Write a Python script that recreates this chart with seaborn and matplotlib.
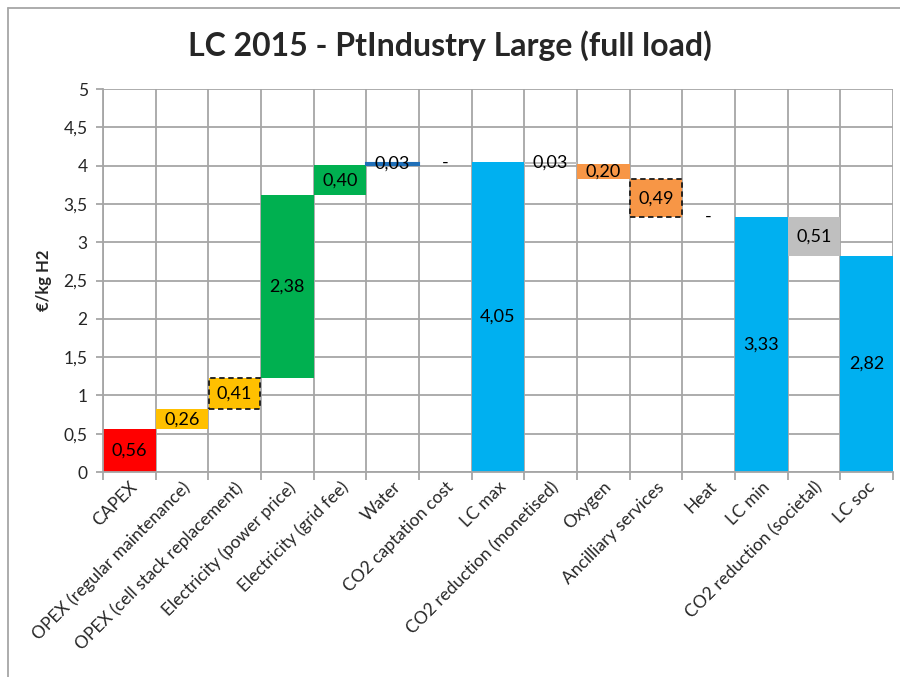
import numpy as np
import pandas as pd
import matplotlib
matplotlib.use("Agg")
import matplotlib.pyplot as plt
import seaborn as sns

# chart data
categories = ["CAPEX", "OPEX (regular maintenance)", "OPEX (cell stack replacement)",
              "Electricity (power price)", "Electricity (grid fee)", "Water",
              "CO2 captation cost", "LC max", "CO2 reduction (monetised)", "Oxygen",
              "Ancilliary services", "Heat", "LC min", "CO2 reduction (societal)", "LC soc"]
# signed steps, None where a total bar stands
steps = [0.56, 0.26, 0.41, 2.38, 0.40, 0.03, 0.0, None, -0.03, -0.20, -0.49, 0.0, None, -0.51, None]
totals = {"LC max": 4.05, "LC min": 3.33, "LC soc": 2.82}
colors = ["#FF0000", "#FFC000", "#FFC000", "#00B050", "#00B050", "#1F6FB8", "#FFFFFF",
          "#00B0F0", "#BFBFBF", "#F79646", "#F79646", "#FFFFFF", "#00B0F0", "#BFBFBF", "#00B0F0"]
dashed = ["OPEX (cell stack replacement)", "Ancilliary services"]

# build bottoms / heights of the waterfall
bottoms, heights, labels, label_y = [], [], [], []
level = 0.0
for cat, s in zip(categories, steps):
    if s is None:
        level = totals[cat]
        bottoms.append(0.0)
        heights.append(level)
        labels.append(f"{level:.2f}".replace(".", ","))
        label_y.append(level / 2)
    else:
        new = level + s
        lo, hi = min(level, new), max(level, new)
        bottoms.append(lo)
        heights.append(hi - lo)
        labels.append(f"{abs(s):.2f}".replace(".", ",") if s != 0 else "-")
        label_y.append((lo + hi) / 2)
        level = new

df = pd.DataFrame({"cat": categories, "height": heights})

sns.set_style("white")
plt.rcParams["font.family"] = ["Lato", "DejaVu Sans"]

fig = plt.figure(figsize=(9, 6.77), dpi=100)
ax = fig.add_axes([0.1144, 0.3028, 0.8778, 0.5657])

sns.barplot(data=df, x="cat", y="height", hue="cat", palette=colors, legend=False,
            width=1.0, saturation=1, linewidth=0, ax=ax, zorder=2)

# move each bar up to its waterfall position
for patch, b, cat in zip(ax.patches, bottoms, categories):
    patch.set_y(b)
    if cat in dashed:
        patch.set_edgecolor("#1a1a1a")
        patch.set_linewidth(1.3)
        patch.set_linestyle((0, (3, 2)))
        patch.set_x(patch.get_x() + 0.01)
        patch.set_width(patch.get_width() - 0.02)
    if cat == "Water":
        patch.set_edgecolor(colors[categories.index(cat)])
        patch.set_linewidth(1.5)

for i, (txt, y) in enumerate(zip(labels, label_y)):
    ax.text(i, y, txt, ha="center", va="center", fontsize=13, color="black", zorder=4)

ax.set_xlim(-0.5, len(categories) - 0.5)
ax.set_ylim(0, 5)
ax.set_yticks(np.arange(0, 5.01, 0.5))
ax.set_yticklabels([f"{v:g}".replace(".", ",") for v in np.arange(0, 5.01, 0.5)], fontsize=12.5)

# gridlines on the category boundaries
ax.set_xticks(np.arange(-0.5, len(categories), 1), minor=True)
ax.grid(True, which="minor", axis="x", color="#A6A6A6", linewidth=1.3, zorder=0)
ax.grid(True, which="major", axis="y", color="#A6A6A6", linewidth=1.3, zorder=0)
ax.set_axisbelow(True)
ax.tick_params(axis="x", which="major", length=0, pad=5)
ax.tick_params(axis="x", which="minor", length=6, width=1.3, color="#A6A6A6", bottom=True)
ax.tick_params(axis="y", length=5, width=1.3, color="#A6A6A6", left=True, pad=6)
ax.set_xticks(range(len(categories)))
ax.set_xticklabels(categories, rotation=45, ha="right", rotation_mode="anchor", fontsize=12.5)

for side in ["top", "right"]:
    ax.spines[side].set_visible(False)
for side in ["left", "bottom"]:
    ax.spines[side].set_color("#A6A6A6")
    ax.spines[side].set_linewidth(1.3)

ax.set_xlabel("")
ax.set_ylabel("€/kg H2", fontsize=12, fontweight="bold", labelpad=8)

fig.suptitle("LC 2015 - PtIndustry Large (full load)", fontsize=23, fontweight="bold",
             y=0.933, va="center")

# outer frame lines (left and top)
fig.add_artist(plt.Line2D([0.009, 0.009], [0, 0.988], color="#A6A6A6", linewidth=1.3))
fig.add_artist(plt.Line2D([0.009, 1.0], [0.988, 0.988], color="#A6A6A6", linewidth=1.3))

fig.savefig("out.png", dpi=100)
